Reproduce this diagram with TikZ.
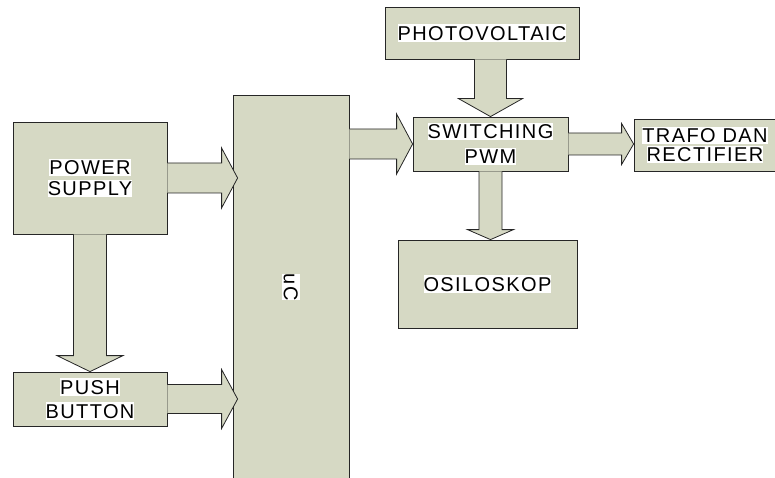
\documentclass[tikz,border=0pt]{standalone}
\usepackage{fontspec}
\setmainfont{Liberation Sans}[LetterSpace=7]
\usetikzlibrary{calc}

\definecolor{blokfill}{HTML}{D6D9C4}
\setlength{\fboxsep}{0pt}
\newcommand\hl[1]{\colorbox{white}{\rule[-1.5pt]{0pt}{17.5pt}#1}}
% fat arrow: from, to, half shaft, half head, head length
\newcommand\fatarrow[5]{%
  \coordinate (hb) at ($(#2)!#5!(#1)$);
  \draw[panah] ($(#1)!#3!90:(#2)$) -- ($(hb)!#3!90:(#2)$) -- ($(hb)!#4!90:(#2)$)
    -- (#2) -- ($(hb)!#4!-90:(#2)$) -- ($(hb)!#3!-90:(#2)$) -- ($(#1)!#3!-90:(#2)$);
}

\begin{document}
\begin{tikzpicture}[x=1pt,y=-1pt,
  blok/.style={draw=black!85,line width=.8pt,fill=blokfill,align=center,inner sep=0pt,
    font=\fontsize{20}{21}\selectfont},
  panah/.style={draw=black!85,line width=.8pt,fill=blokfill,line join=miter}]
  \useasboundingbox (0,0) rectangle (775,478);
  \clip (0,0) rectangle (775,478);

  % blocks
  \node[blok,minimum width=154pt,minimum height=112pt] (ps) at (90,178) {\hl{POWER}\\\hl{SUPPLY}};
  \node[blok,minimum width=154pt,minimum height=54pt] (pb) at (90,399) {\hl{PUSH}\\[3pt]\hl{BUTTON}};
  \node[blok,minimum width=116pt,minimum height=384pt] (uc) at (291,287) {\rotatebox{-90}{\hl{uC}}};
  \node[blok,minimum width=194pt,minimum height=52pt] (pv) at (482,33) {\hl{PHOTOVOLTAIC}};
  \node[blok,minimum width=155pt,minimum height=54pt] (sw) at (490.5,144) {\hl{SWITCHING}\\[4pt]\hl{PWM}};
  \node[blok,minimum width=179pt,minimum height=88pt] (os) at (487.5,284) {\hl{OSILOSKOP}};
  \node[blok,minimum width=142pt,minimum height=52pt,font=\fontsize{20}{19}\selectfont] (tr) at (705,145) {\hl{TRAFO DAN}\\\hl{RECTIFIER}};

  % arrows
  \coordinate (a1) at ($(uc.west |- ps.east)+(5,0)$);
  \coordinate (a2) at ($(uc.west |- pb.east)+(5,0)$);
  \coordinate (a3) at (uc.east |- sw.west);
  \coordinate (a4) at (tr.west |- sw.east);
  \coordinate (a5) at (sw.north |- pv.south);
  \coordinate (a6) at (sw.south |- os.north);
  \fatarrow{ps.east}{a1}{15pt}{30pt}{16pt}
  \fatarrow{pb.east}{a2}{14.5pt}{29.5pt}{16pt}
  \fatarrow{a3}{sw.west}{15pt}{30pt}{16pt}
  \fatarrow{sw.east}{a4}{11pt}{20.5pt}{12pt}
  \fatarrow{a5}{sw.north}{16pt}{32pt}{18pt}
  \fatarrow{sw.south}{a6}{11.5pt}{23pt}{10pt}
  \fatarrow{ps.south}{pb.north}{16.5pt}{33pt}{16pt}
\end{tikzpicture}
\end{document}
